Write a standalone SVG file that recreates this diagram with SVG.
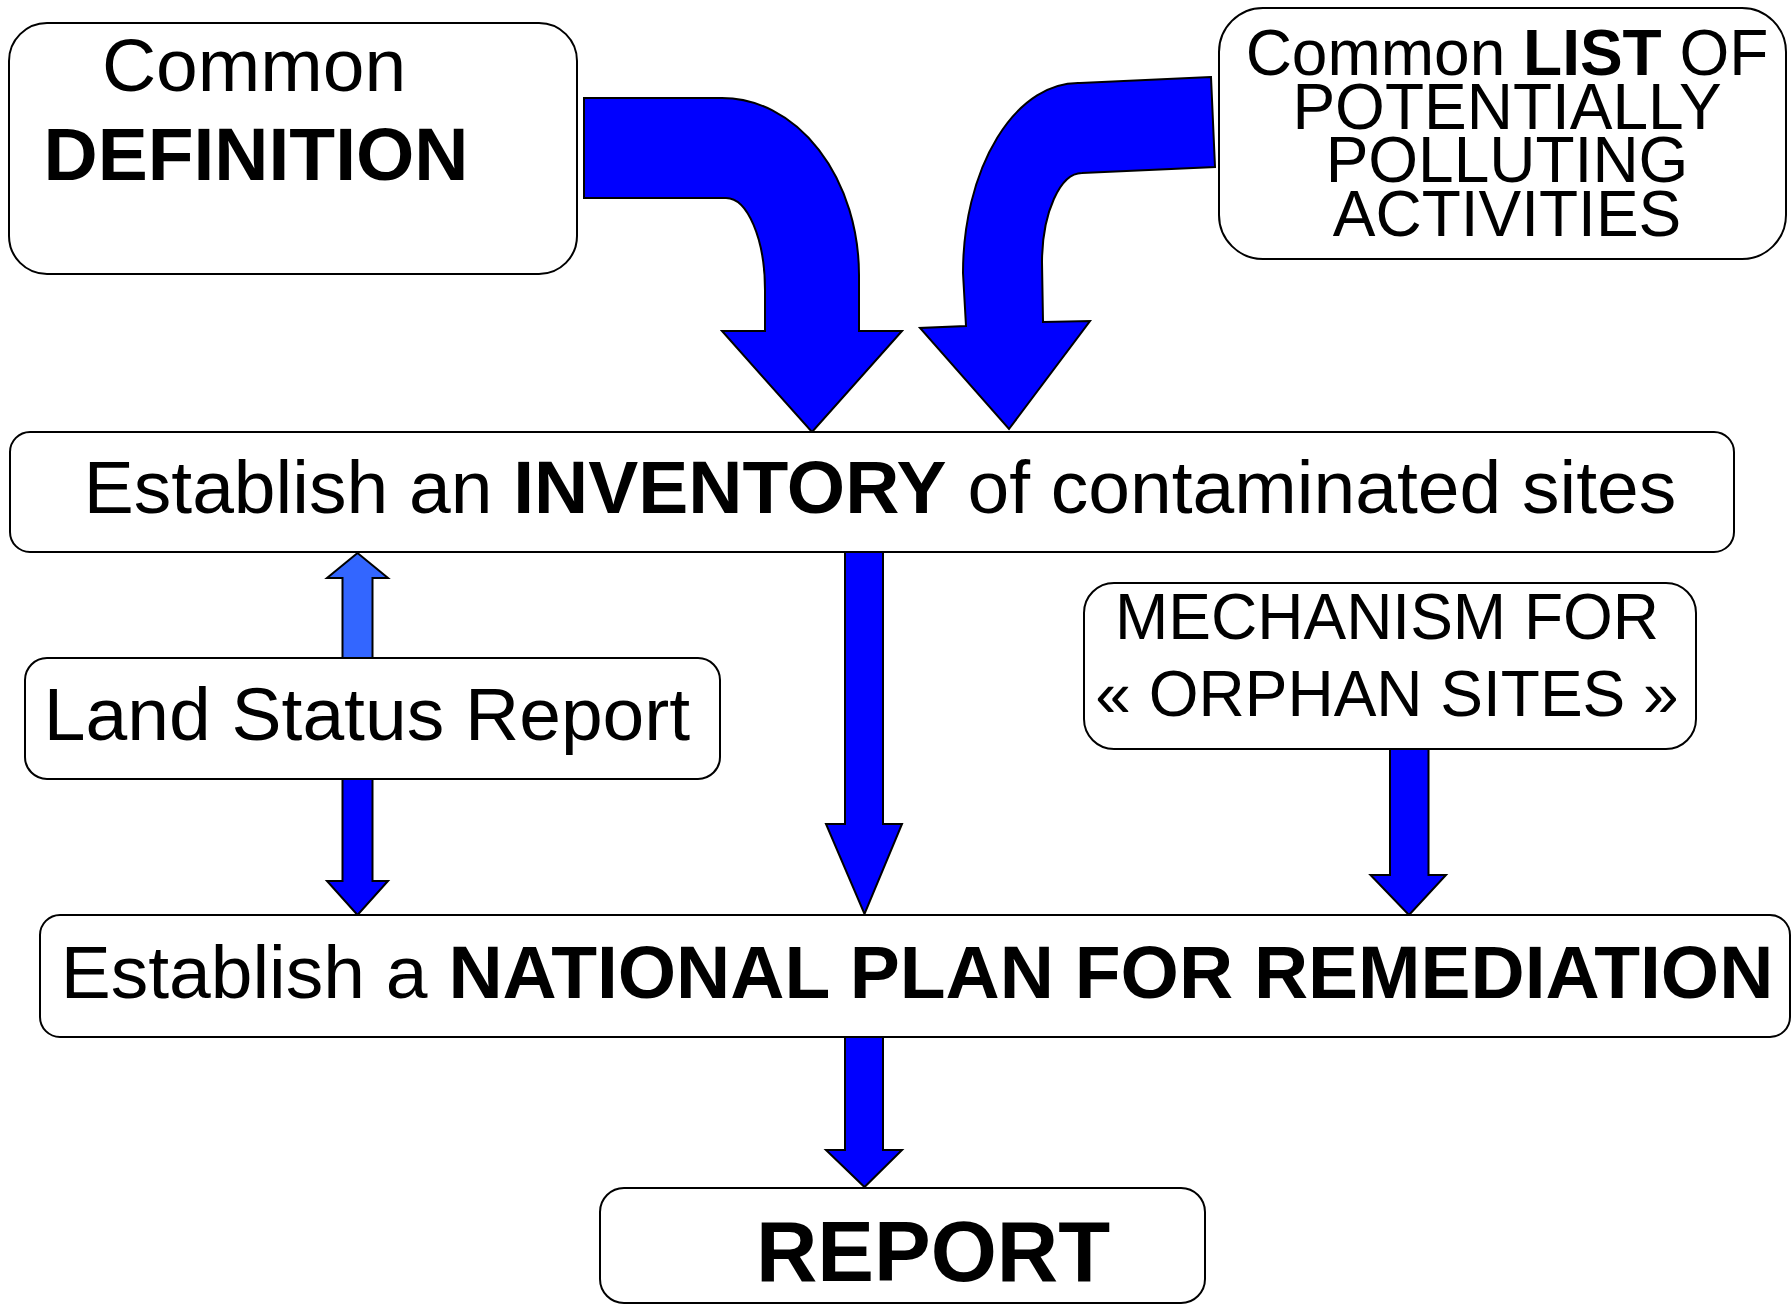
<svg xmlns="http://www.w3.org/2000/svg" width="1791" height="1306" viewBox="0 0 1791 1306">
<style>
.box{fill:#fff;stroke:#000;stroke-width:2}
.arr{fill:#0000ff;stroke:#000;stroke-width:2;stroke-linejoin:miter}
.arr2{fill:#3366ff;stroke:#000;stroke-width:2}
text{font-family:"Liberation Sans",Arial,sans-serif;fill:#000}
.b{font-weight:bold}
</style>
<rect width="1791" height="1306" fill="#fff"/>
<g id="connectors">
<path class="arr" d="M584,98 L722,98 A137,177 0 0 1 859,275 L859,331 L902,331 L812,432 L722,331 L765,331 L765,290 A39,92 0 0 0 726,198 L584,198 Z"/>
<path class="arr" d="M1211,77 L1080,83 A115,190 0 0 0 963,273 L966,326 L920,328 L1009,429 L1090,321 L1043,322 L1042,262 A40,90 0 0 1 1082,173 L1215,167 Z"/>
<path class="arr2" d="M342.5,658 L342.5,578 L327,578 L357.5,553 L388,578 L372.5,578 L372.5,658 Z"/>
<path class="arr" d="M342.5,779 L342.5,881 L327,881 L357.5,915 L388,881 L372.5,881 L372.5,779 Z"/>
<path class="arr" d="M845,552 L845,824 L826,824 L864.5,914 L902,824 L883,824 L883,552 Z"/>
<path class="arr" d="M1390,749 L1390,875 L1370.5,875 L1409,915 L1446,875 L1428.5,875 L1428.5,749 Z"/>
<path class="arr" d="M845,1037 L845,1150 L826,1150 L864.5,1187 L902,1150 L883,1150 L883,1037 Z"/>
</g>
<g id="definition">
<rect class="box" x="9" y="23" width="568" height="251" rx="38"/>
<text x="254" y="91" font-size="75" text-anchor="middle">Common</text>
<text x="256" y="180" font-size="75" text-anchor="middle" class="b">DEFINITION</text>
</g>
<g id="list">
<rect class="box" x="1219" y="8" width="567" height="251" rx="44"/>
<text x="1507" y="75" font-size="64" text-anchor="middle">Common <tspan class="b">LIST</tspan> OF</text>
<text x="1507" y="128.5" font-size="64" text-anchor="middle">POTENTIALLY</text>
<text x="1507" y="182" font-size="64" text-anchor="middle">POLLUTING</text>
<text x="1507" y="236" font-size="64" text-anchor="middle">ACTIVITIES</text>
</g>
<g id="inventory">
<rect class="box" x="10" y="432" width="1724" height="120" rx="20"/>
<text x="880" y="513" font-size="75" text-anchor="middle">Establish an <tspan class="b">INVENTORY</tspan> of contaminated sites</text>
</g>
<g id="land">
<rect class="box" x="25" y="658" width="695" height="121" rx="22"/>
<text x="367" y="740" font-size="75" text-anchor="middle">Land Status Report</text>
</g>
<g id="orphan">
<rect class="box" x="1084" y="583" width="612" height="166" rx="30"/>
<text x="1387" y="639" font-size="64" text-anchor="middle">MECHANISM FOR</text>
<text x="1387" y="716" font-size="64" text-anchor="middle">« ORPHAN SITES »</text>
</g>
<g id="national">
<rect class="box" x="40" y="915" width="1750" height="122" rx="20"/>
<text x="917" y="998" font-size="75" text-anchor="middle">Establish a <tspan class="b">NATIONAL PLAN FOR REMEDIATION</tspan></text>
</g>
<g id="report">
<rect class="box" x="600" y="1188" width="605" height="115" rx="24"/>
<text x="933" y="1281" font-size="85" text-anchor="middle" class="b">REPORT</text>
</g>
</svg>
